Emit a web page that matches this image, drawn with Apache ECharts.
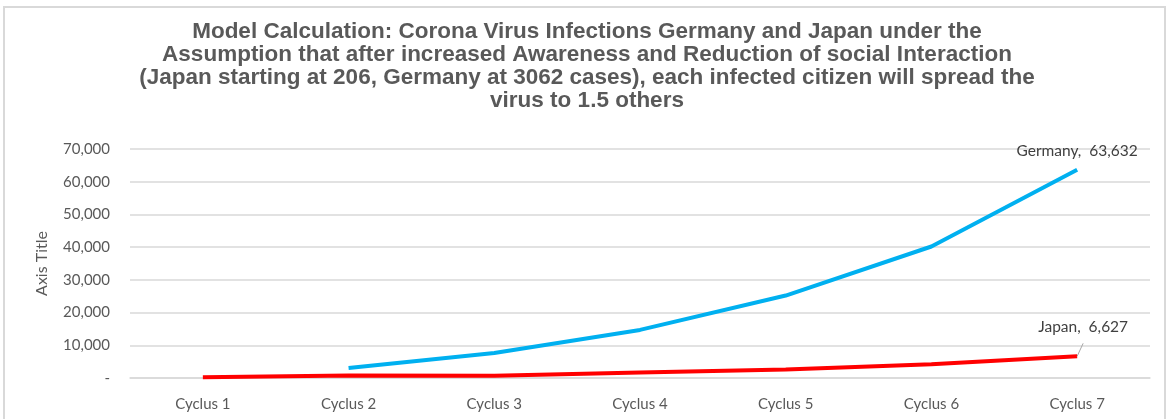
<!DOCTYPE html>
<html>
<head>
<meta charset="utf-8">
<script src="https://cdn.jsdelivr.net/npm/echarts@6/dist/echarts.min.js"></script>
<style>
html,body{margin:0;padding:0;background:#fff;}
#frame{position:absolute;left:3px;top:6px;width:1163px;height:430px;border:2px solid #d9d9d9;box-sizing:border-box;}
#chart{position:absolute;left:0;top:0;width:1174px;height:419px;}
</style>
</head>
<body>
<div id="frame"></div>
<div id="chart"></div>
<script>
const categories = ['Cyclus 1','Cyclus 2','Cyclus 3','Cyclus 4','Cyclus 5','Cyclus 6','Cyclus 7'];
const germany = [null, 3062, 7655, 14700, 25200, 40200, 63632];
const japan = [206, 750, 700, 1700, 2600, 4200, 6627];
const yTicks = { min: 0, max: 70000, interval: 10000 };
const titleText = 'Model Calculation: Corona Virus Infections Germany and Japan under the\nAssumption that after increased Awareness and Reduction of social Interaction\n(Japan starting at 206, Germany at 3062 cases), each infected citizen will spread the\nvirus to 1.5 others';

const fmt = v => v === 0 ? '-' : v.toLocaleString('en-US');
const lastIdx = categories.length - 1;
const labelFormatter = p => p.seriesName + ',  ' + p.value.toLocaleString('en-US');

function withEndLabel(arr, labelExtra, lineShow) {
  return arr.map((v, i) => i === lastIdx
    ? { value: v, label: Object.assign({ show: true }, labelExtra), labelLine: { show: lineShow, lineStyle: { color: '#a6a6a6', width: 1 } } }
    : v);
}

const baseLabel = { show: false, position: 'top', distance: 5, formatter: labelFormatter, color: '#404040', fontFamily: 'Lato', fontSize: 15.5 };

const chart = echarts.init(document.getElementById('chart'), null, {renderer: 'canvas'});
chart.setOption({
  animation: false,
  backgroundColor: 'transparent',
  title: {
    text: titleText,
    left: 'center',
    top: 15,
    textStyle: { fontFamily: 'Liberation Sans', fontWeight: 'bold', fontSize: 22.5, lineHeight: 23, color: '#595959' }
  },
  grid: { left: 130, right: 24, top: 149, bottom: 41, containLabel: false },
  xAxis: {
    type: 'category',
    data: categories,
    boundaryGap: true,
    axisLine: { show: true, lineStyle: { color: '#d9d9d9', width: 1.5 } },
    axisTick: { show: false },
    axisLabel: { color: '#595959', fontFamily: 'Lato', fontSize: 15, margin: 19 }
  },
  yAxis: {
    type: 'value',
    min: yTicks.min, max: yTicks.max, interval: yTicks.interval,
    name: 'Axis Title',
    nameLocation: 'middle',
    nameRotate: 90,
    nameGap: 80,
    nameTextStyle: { color: '#595959', fontFamily: 'Lato', fontSize: 16 },
    axisLine: { show: false },
    axisTick: { show: false },
    axisLabel: { color: '#595959', fontFamily: 'Lato', fontSize: 15, margin: 20, formatter: fmt },
    splitLine: { lineStyle: { color: '#d9d9d9', width: 1.5 } }
  },
  series: [
    {
      name: 'Germany', type: 'line', data: withEndLabel(germany, {}, false),
      symbol: 'circle', symbolSize: 0, showSymbol: true, connectNulls: false,
      lineStyle: { color: '#00b0f0', width: 4 },
      itemStyle: { color: '#00b0f0' },
      label: baseLabel,
      labelLayout: { dy: -6 }
    },
    {
      name: 'Japan', type: 'line', data: withEndLabel(japan, { distance: 21, offset: [6, 0] }, true),
      symbol: 'circle', symbolSize: 0, showSymbol: true,
      lineStyle: { color: '#ff0000', width: 4 },
      itemStyle: { color: '#ff0000' },
      label: baseLabel,
      labelLine: { show: false, lineStyle: { color: '#a6a6a6', width: 1 } }
    }
  ]
});
</script>
</body>
</html>
